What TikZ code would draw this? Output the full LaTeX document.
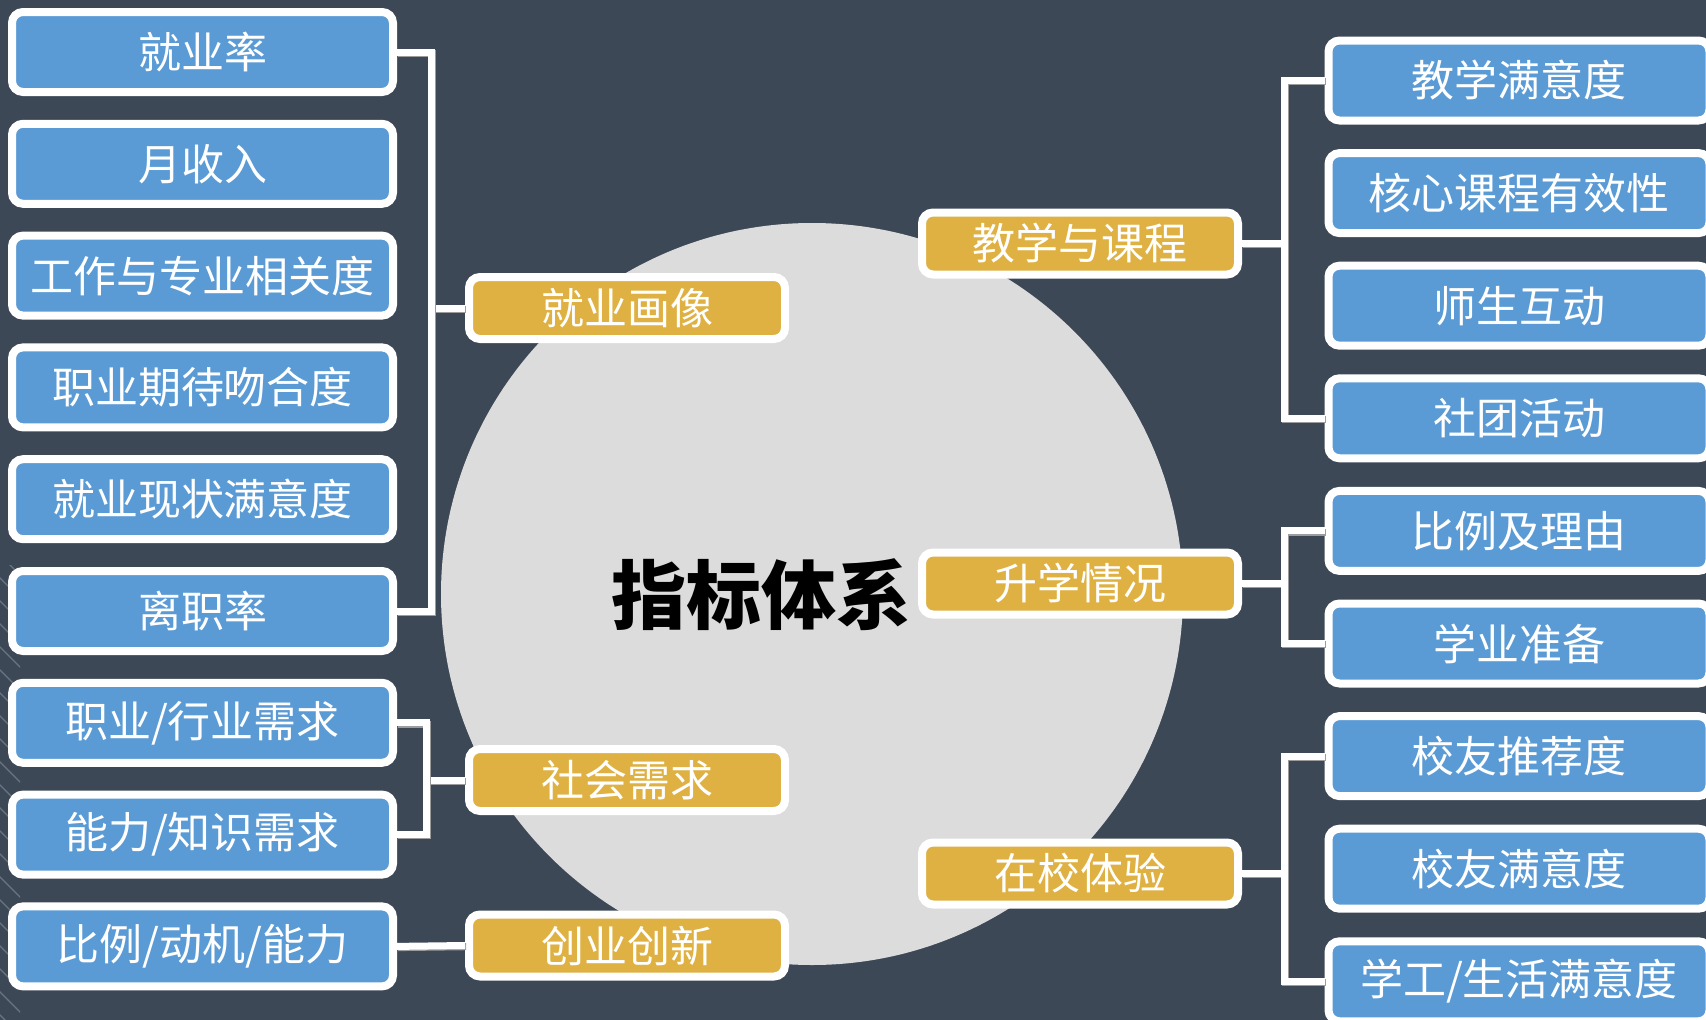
\documentclass[tikz,border=0pt]{standalone}
\usepackage{fontspec}
\newfontfamily\cjk{Noto Sans CJK SC}
\usetikzlibrary{calc}

\definecolor{fond}{HTML}{3D4857}
\definecolor{bleu}{HTML}{5B9BD5}
\definecolor{ocre}{HTML}{DFB142}
\definecolor{disque}{HTML}{DCDCDC}
\definecolor{ombre}{HTML}{9C9C9C}
\definecolor{hachure}{HTML}{6B7582}

\tikzstyle{feuille}=[draw=white, line width=8pt, fill=bleu, rounded corners=11pt, minimum width=381pt, minimum height=80pt, inner sep=0pt, text=white, font=\cjk\fontsize{43}{47}\selectfont]
\tikzstyle{branche}=[feuille, fill=ocre, minimum width=316pt, minimum height=62pt, font=\cjk\fontsize{43}{47}\selectfont]
\tikzstyle{lien}=[white, line width=7pt, preaction={draw=ombre, line width=7pt, transform canvas={shift={(1.2pt,-1.2pt)}}}]

\begin{document}
\begin{tikzpicture}[x=1pt,y=-1pt]

\useasboundingbox (0,0) rectangle (1706,1020);
\clip (0,0) rectangle (1706,1020);
\fill[fond] (0,0) rectangle (1706,1020);

%hachures du bord gauche
\begin{scope}
\clip (0,565) rectangle (20,1020);
\foreach \k in {0,...,21}{\draw[hachure, line width=1.2pt] (-10,{545+23*\k})--++(40,40);}
\end{scope}

%disque central
\fill[disque] (812,594) circle (371);

\node[font=\cjk\bfseries\fontsize{75}{80}\selectfont, text=black] (titre) at (761,595) {指标体系};

%%%%%%%%%%%%%%%%%%%%%%%%
%Partie gauche
%%%%%%%%%%%%%%%%%%%%%%%%

\def \xgauche {202.5}
\def \pasgauche {111.8}

\foreach \nom/\texte [count=\i from 0] in {jyl/就业率, ysr/月收入, gzxg/工作与专业相关度, zyqd/职业期待吻合度, jymy/就业现状满意度, lzl/离职率, hyxq/{职业/行业需求}, nlxq/{能力/知识需求}, bldn/{比例/动机/能力}}
  {\node[feuille] (\nom) at (\xgauche,{52+\pasgauche*\i}) {\texte};}

\node[branche] (jyhx) at (627,308) {就业画像};
\node[branche] (shxq) at (627,780) {社会需求};
\node[branche] (cycx) at (627,945.5) {创业创新};

%%%%%%%%%%%%%%%%%%%%%%%%
%Partie droite
%%%%%%%%%%%%%%%%%%%%%%%%

\def \xdroite {1519}
\def \pasdroite {112.6}

\foreach \nom/\texte [count=\i from 0] in {jxmy/教学满意度, hxkc/核心课程有效性, sshd/师生互动, sthd/社团活动, blly/比例及理由, xyzb/学业准备, xytj/校友推荐度, xymy/校友满意度, xgsh/{学工/生活满意度}}
  {\node[feuille] (\nom) at (\xdroite,{80.5+\pasdroite*\i}) {\texte};}

\node[branche] (jxkc) at (1080,243.5) {教学与课程};
\node[branche] (sxqk) at (1080,583.5) {升学情况};
\node[branche] (zxty) at (1080,873.5) {在校体验};

%%%%%%%%%%%%%%%%%%%%%%%%
%Liens (seulement la premiere et la derniere feuille)
%%%%%%%%%%%%%%%%%%%%%%%%

\draw[lien] (jyhx.west)--++(-34,0) coordinate (pJ);
\foreach \n in {jyl,lzl}{\draw[lien] (\n.east) -| (pJ);}

\draw[lien] (shxq.west)--++(-39,0) coordinate (pS);
\foreach \n in {hyxq,nlxq}{\draw[lien] (\n.east) -| (pS);}

\draw[lien] (bldn.east)--(cycx.west);

\draw[lien] (jxkc.east)--++(42,0) coordinate (pK);
\foreach \n in {jxmy,sthd}{\draw[lien] (\n.west) -| (pK);}

\draw[lien] (sxqk.east)--++(42,0) coordinate (pX);
\foreach \n in {blly,xyzb}{\draw[lien] (\n.west) -| (pX);}

\draw[lien] (zxty.east)--++(42,0) coordinate (pZ);
\foreach \n in {xytj,xgsh}{\draw[lien] (\n.west) -| (pZ);}

\end{tikzpicture}
\end{document}
